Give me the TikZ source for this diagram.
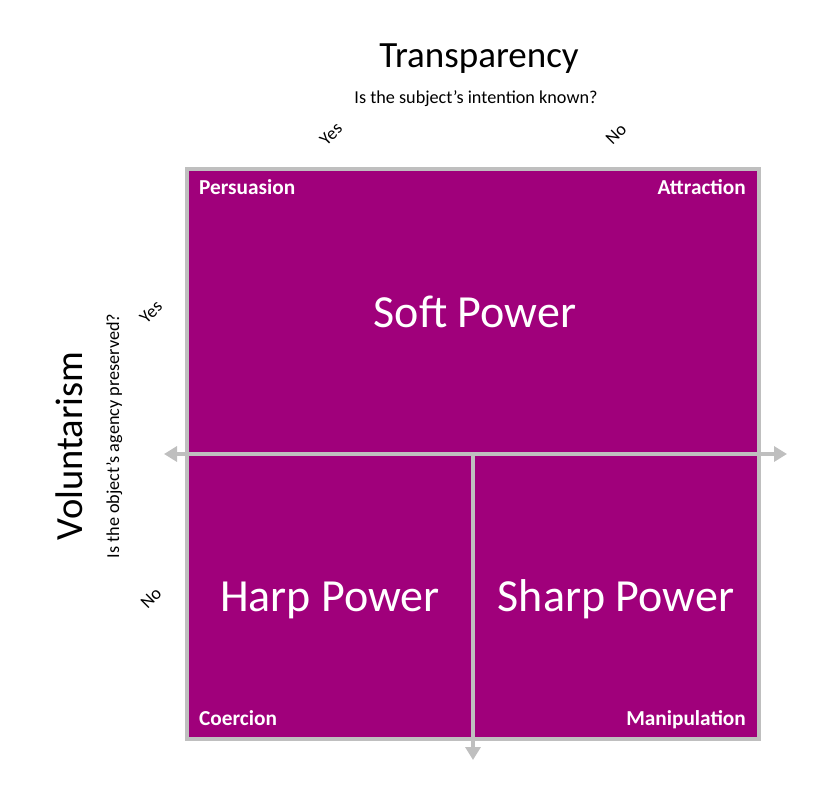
\documentclass[tikz,border=0pt]{standalone}
\usepackage{fontspec}
\setmainfont{Carlito}
\usetikzlibrary{arrows.meta}
\definecolor{quadpurple}{RGB}{160,0,123}
\definecolor{axisgray}{RGB}{191,191,191}
\tikzset{
  axisline/.style={draw=axisgray, line width=4pt},
  axistip/.tip={Triangle[length=13pt,width=15pt]},
  corner/.style={text=white, font=\fontsize{21.3}{24}\selectfont\bfseries, inner sep=0pt, anchor=base west},
  power/.style={text=white, font=\fontsize{46}{52}\selectfont, inner sep=0pt, anchor=base},
  bigtitle/.style={font=\fontsize{37}{42}\selectfont, inner sep=0pt, anchor=base},
  question/.style={font=\fontsize{18.2}{20}\selectfont, inner sep=0pt, anchor=base},
  answer/.style={font=\fontsize{18}{20}\selectfont, inner sep=0pt, rotate=45},
}
\begin{document}
\begin{tikzpicture}[x=1pt, y=-1pt]
  \useasboundingbox (0, 0) rectangle (837, 808);
  % quadrant box
  \path[fill=quadpurple, draw=axisgray, line width=4pt] (187, 169) rectangle (759, 739);
  \coordinate (ctr) at (473, 454);
  \coordinate (axl) at (164, 454);
  \coordinate (axr) at (787, 454);
  \coordinate (axd) at (473, 760);
  \draw[axisline, axistip-axistip] (axl) -- (axr);
  \draw[axisline, -axistip] (ctr) -- (axd);

  \node[bigtitle] (transp) at (479, 67){Transparency};
  \node[question] (transq) at (476, 103){Is the subject’s intention known?};
  \node[answer] (topyes) at (331, 134){Yes};
  \node[answer] (topno) at (616, 134){No};

  \node[bigtitle, font=\fontsize{38.5}{42}\selectfont, rotate=90] (volun) at (82, 446){Voluntarism};
  \node[question, rotate=90] (volq) at (119, 436){Is the object’s agency preserved?};
  \node[answer] (leftyes) at (151, 312){Yes};
  \node[answer] (leftno) at (151, 598){No};

  \node[power] (soft) at (475, 327){Soft Power};
  \node[power] (harp) at (330, 611){Harp Power};
  \node[power] (sharp) at (616, 611){Sharp Power};

  \node[corner] (persu) at (199, 194){Persuasion};
  \node[corner, anchor=base east] (attra) at (746, 194){Attraction};
  \node[corner] (coerc) at (199, 725){Coercion};
  \node[corner, anchor=base east] (manip) at (746, 725){Manipulation};
\end{tikzpicture}
\end{document}
